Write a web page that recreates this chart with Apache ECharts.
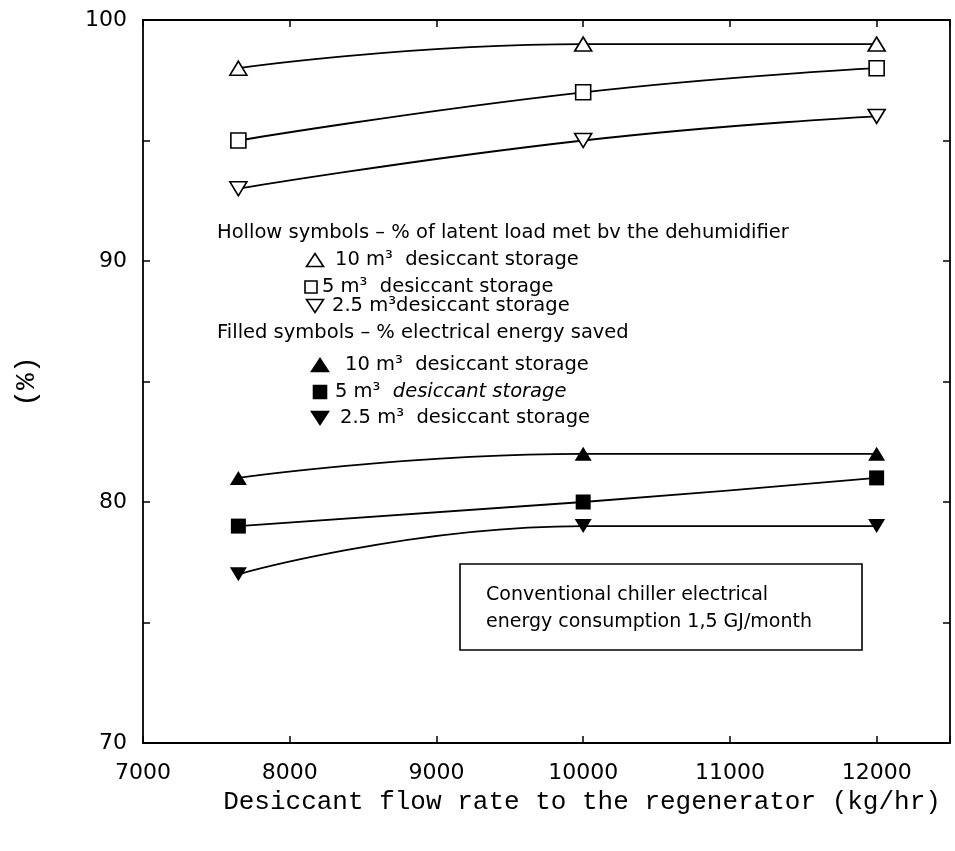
<!DOCTYPE html>
<html>
<head>
<meta charset="utf-8">
<script src="https://cdn.jsdelivr.net/npm/echarts@6/dist/echarts.min.js"></script>
<style>
html, body { margin: 0; padding: 0; background: #ffffff; }
#chart { width: 955px; height: 851px; }
</style>
</head>
<body>
<div id="chart"></div>
<script>
// Desiccant flow rate to the regenerator (kg/hr)
const flowRates = [7650, 10000, 12000];

// Hollow symbols: % of latent load met by the dehumidifier
const latent10 = [98, 99, 99];
const latent5 = [95, 97, 98];
const latent25 = [93, 95, 96];

// Filled symbols: % electrical energy saved
const saved10 = [81, 82, 82];
const saved5 = [79, 80, 81];
const saved25 = [77, 79, 79];

// Labelled tick values
const xTicks = [7000, 8000, 9000, 10000, 11000, 12000];
const yTicks = [70, 80, 90, 100];

const INK = '#000000';
const SANS = '"DejaVu Sans", sans-serif';
const MONO = '"Liberation Mono", "DejaVu Sans Mono", monospace';

function pairs(xs, ys) {
  return xs.map((x, i) => [x, ys[i]]);
}

function curve(name, values, symbol, hollow, rotate) {
  const square = symbol === 'rect';
  return {
    name: name,
    type: 'line',
    smooth: true,
    data: pairs(flowRates, values),
    symbol: symbol,
    symbolSize: square ? [15, 15] : [17, 14],
    symbolRotate: rotate || 0,
    showAllSymbol: true,
    lineStyle: { color: INK, width: 1.8 },
    itemStyle: {
      color: hollow ? '#ffffff' : INK,
      borderColor: INK,
      borderWidth: hollow ? 1.6 : 0
    },
    emphasis: { disabled: true },
    z: 3
  };
}

const tickStyle = { show: true, inside: true, length: 7, lineStyle: { color: INK, width: 1.5 } };
const axisLineStyle = { show: true, lineStyle: { color: INK, width: 1.8 } };

const NOTE_SIZE = 19.5;

function label(x, y, text, extra) {
  return {
    type: 'text', x: x, y: y, silent: true, z: 10,
    style: Object.assign({
      text: text, fontFamily: SANS, fontSize: NOTE_SIZE, fill: INK,
      verticalAlign: 'middle'
    }, extra || {})
  };
}

// Legend keys drawn as small shapes
function keyTriangle(cx, cy, down, filled) {
  const h = 6.5, w = 8.5;
  const pts = down
    ? [[cx - w, cy - h], [cx + w, cy - h], [cx, cy + h]]
    : [[cx - w, cy + h], [cx + w, cy + h], [cx, cy - h]];
  return {
    type: 'polygon', silent: true, z: 10,
    shape: { points: pts },
    style: { fill: filled ? INK : '#ffffff', stroke: INK, lineWidth: 1.6 }
  };
}
function keySquare(cx, cy, size, filled) {
  return {
    type: 'rect', silent: true, z: 10,
    shape: { x: cx - size / 2, y: cy - size / 2, width: size, height: size },
    style: { fill: filled ? INK : '#ffffff', stroke: INK, lineWidth: 1.6 }
  };
}

const chart = echarts.init(document.getElementById('chart'), null, { renderer: 'canvas' });

chart.setOption({
  backgroundColor: '#ffffff',
  animation: false,
  grid: { left: 143, right: 5, top: 20, bottom: 108, containLabel: false },
  xAxis: [
    {
      type: 'value', position: 'bottom', min: 7000, max: 12500, interval: 1000,
      axisLine: axisLineStyle, axisTick: tickStyle, splitLine: { show: false },
      axisLabel: {
        color: INK, fontFamily: SANS, fontSize: 22, margin: 19,
        formatter: v => (xTicks.indexOf(v) >= 0 ? String(v) : '')
      }
    },
    {
      type: 'value', position: 'top', min: 7000, max: 12500, interval: 1000,
      axisLine: axisLineStyle, axisTick: tickStyle, splitLine: { show: false },
      axisLabel: { show: false }
    }
  ],
  yAxis: [
    {
      type: 'value', position: 'left', min: 70, max: 100, interval: 5,
      axisLine: axisLineStyle, axisTick: tickStyle, splitLine: { show: false },
      axisLabel: {
        color: INK, fontFamily: SANS, fontSize: 22, margin: 16,
        formatter: v => (yTicks.indexOf(v) >= 0 ? String(v) : '')
      },
      name: '(%)', nameLocation: 'middle', nameGap: 102, nameRotate: 90,
      nameTextStyle: { color: INK, fontFamily: MONO, fontSize: 28 }
    },
    {
      type: 'value', position: 'right', min: 70, max: 100, interval: 5,
      axisLine: axisLineStyle, axisTick: tickStyle, splitLine: { show: false },
      axisLabel: { show: false }
    }
  ],
  series: [
    curve('10 m3 latent', latent10, 'triangle', true),
    curve('5 m3 latent', latent5, 'rect', true),
    curve('2.5 m3 latent', latent25, 'triangle', true, 180),
    curve('10 m3 saved', saved10, 'triangle', false),
    curve('5 m3 saved', saved5, 'rect', false),
    curve('2.5 m3 saved', saved25, 'triangle', false, 180)
  ],
  graphic: [
    // x-axis title
    {
      type: 'text', x: 582, y: 802, silent: true, z: 10,
      style: {
        text: 'Desiccant flow rate to the regenerator (kg/hr)',
        fontFamily: MONO, fontSize: 26, fill: INK, align: 'center', verticalAlign: 'middle'
      }
    },

    // key: hollow symbols
    label(217, 233, 'Hollow symbols \u2013 % of latent load met bv the dehumidifier'),
    keyTriangle(315, 260, false, false),
    label(335, 260, '10 m\u00B3  desiccant storage'),
    keySquare(311, 287, 12, false),
    label(322, 287, '5 m\u00B3  desiccant storage'),
    keyTriangle(315, 306, true, false),
    label(332, 306, '2.5 m\u00B3desiccant storage'),

    // key: filled symbols
    label(217, 333, 'Filled symbols \u2013 % electrical energy saved'),
    keyTriangle(320, 365, false, true),
    label(345, 365, '10 m\u00B3  desiccant storage'),
    keySquare(320, 392, 13, true),
    {
      type: 'text', x: 335, y: 392, silent: true, z: 10,
      style: {
        text: '{n|5 m\u00B3  }{i|desiccant storage}',
        fontFamily: SANS, fontSize: NOTE_SIZE, fill: INK, verticalAlign: 'middle',
        rich: {
          n: { fontFamily: SANS, fontSize: NOTE_SIZE, fill: INK },
          i: { fontFamily: SANS, fontSize: NOTE_SIZE, fill: INK, fontStyle: 'italic' }
        }
      }
    },
    keyTriangle(320, 418, true, true),
    label(340, 418, '2.5 m\u00B3  desiccant storage'),

    // note box
    {
      type: 'rect', silent: true, z: 5,
      shape: { x: 460, y: 564, width: 402, height: 86 },
      style: { fill: '#ffffff', stroke: INK, lineWidth: 1.6 }
    },
    label(486, 595, 'Conventional chiller electrical', { fontSize: 19 }),
    label(486, 622, 'energy consumption 1,5 GJ/month', { fontSize: 19 })
  ]
});
</script>
</body>
</html>
